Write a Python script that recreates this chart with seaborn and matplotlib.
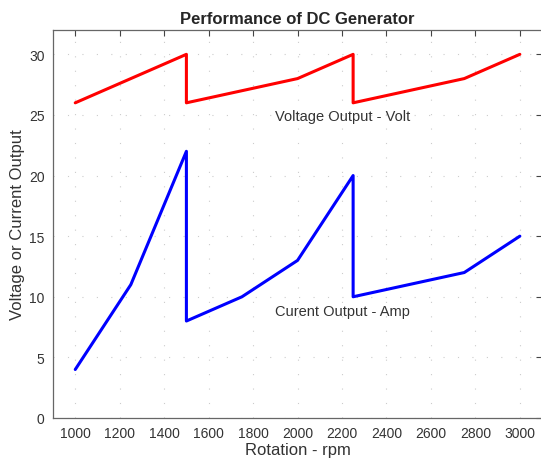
import matplotlib
matplotlib.use("Agg")
import matplotlib.pyplot as plt
import seaborn as sns
import pandas as pd

# data
rpm = [1000, 1250, 1500, 1500, 1750, 2000, 2250, 2250, 2500, 2750, 3000]
voltage = [26, 28, 30, 26, 27, 28, 30, 26, 27, 28, 30]
current = [4, 11, 22, 8, 10, 13, 20, 10, 11, 12, 15]

x_ticks = list(range(1000, 3001, 200))
y_ticks = [0, 5, 10, 15, 20, 25, 30]

sns.set_style("white")
plt.rcParams["font.family"] = ["Liberation Sans", "DejaVu Sans"]

df = pd.DataFrame({"rpm": rpm, "voltage": voltage, "current": current})

fig = plt.figure(figsize=(5.41, 4.64), dpi=100)
ax = fig.add_axes([0.098, 0.097, 0.904, 0.836])

sns.lineplot(data=df, x="rpm", y="voltage", sort=False, estimator=None,
             color="#ff0000", linewidth=2.2, ax=ax)
sns.lineplot(data=df, x="rpm", y="current", sort=False, estimator=None,
             color="#0000ff", linewidth=2.2, ax=ax)

ax.set_xlim(900, 3100)
ax.set_ylim(0, 32)
ax.set_xticks(x_ticks)
ax.set_yticks(y_ticks)
ax.grid(True, linestyle=(0, (1, 12)), color="#cccccc", linewidth=0.8)
ax.tick_params(direction="in", length=4, width=0.8, colors="#444444",
               labelsize=10, top=True, right=True, labelcolor="#333333", pad=6)
for s in ax.spines.values():
    s.set_color("#666666")
    s.set_linewidth(0.9)

ax.text(2202, 24.9, "Voltage Output - Volt", ha="center", va="center",
        fontsize=10.5, color="#333333")
ax.text(2202, 8.8, "Curent Output - Amp", ha="center", va="center",
        fontsize=10.5, color="#333333")

ax.set_title("Performance of DC Generator", fontsize=12, fontweight="bold", pad=5)
ax.set_xlabel("Rotation - rpm", fontsize=12, color="#333333", labelpad=1)
ax.set_ylabel("Voltage or Current Output", fontsize=12, color="#333333", labelpad=3)

fig.savefig("out.png", dpi=100)
